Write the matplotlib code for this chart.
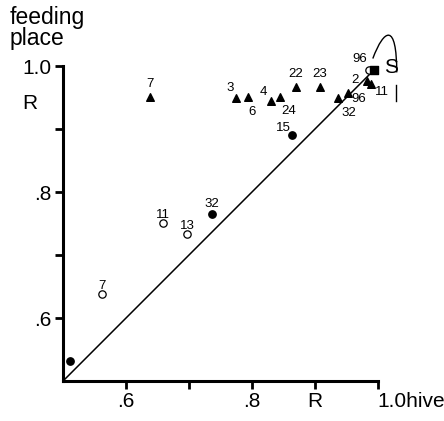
import matplotlib
matplotlib.use("Agg")
import matplotlib.pyplot as plt
from matplotlib.path import Path
from matplotlib.patches import PathPatch

plt.rcParams['font.family'] = ['Liberation Sans', 'DejaVu Sans']

# filled triangles
tri_x = [0.638, 0.775, 0.794, 0.830, 0.845, 0.870, 0.908, 0.937, 0.952, 0.982, 0.989]
tri_y = [0.951, 0.949, 0.951, 0.944, 0.951, 0.967, 0.967, 0.949, 0.957, 0.976, 0.972]
tri_lab = ['7', '3', '6', '4', '24', '22', '23', '32', '96', '2', '11']

# filled circles
dot_x = [0.863, 0.737, 0.511]
dot_y = [0.890, 0.765, 0.532]
dot_lab = ['15', '32', '']

# open circles
ring_x = [0.659, 0.697, 0.562, 0.986]
ring_y = [0.751, 0.733, 0.638, 0.994]
ring_lab = ['11', '13', '7', '96']

# filled square (S)
sq_x = [0.994]
sq_y = [0.994]

# label offsets (points)
tri_off = [(0, 9), (-4, 7), (3, -11), (-5, 7), (6, -10), (0, 9), (0, 9), (8, -11), (8, -4), (-8, 1), (8, -6)]
dot_off = [(-6, 5), (0, 7), (0, 0)]
ring_off = [(0, 6), (0, 6), (0, 6), (-7, 8)]

fig = plt.figure(figsize=(4.44, 4.21), dpi=100)
ax = fig.add_axes([0.142, 0.095, 0.709, 0.748])

ax.plot([0.5, 1.0], [0.5, 1.0], color='black', lw=1.1)
ax.scatter(tri_x, tri_y, marker='^', s=30, color='black', zorder=3, clip_on=False)
ax.scatter(dot_x, dot_y, marker='o', s=28, color='black', zorder=3, clip_on=False)
ax.scatter(ring_x, ring_y, marker='o', s=28, facecolor='white', edgecolor='black', lw=0.9, zorder=3, clip_on=False)
ax.scatter(sq_x, sq_y, marker='s', s=30, color='black', zorder=3, clip_on=False)

for x, y, t, o in zip(tri_x, tri_y, tri_lab, tri_off):
    ax.annotate(t, (x, y), xytext=o, textcoords='offset points', ha='center', va='center', fontsize=9.5, annotation_clip=False)
for x, y, t, o in zip(dot_x, dot_y, dot_lab, dot_off):
    ax.annotate(t, (x, y), xytext=o, textcoords='offset points', ha='center', va='center', fontsize=9.5, annotation_clip=False)
for x, y, t, o in zip(ring_x, ring_y, ring_lab, ring_off):
    ax.annotate(t, (x, y), xytext=o, textcoords='offset points', ha='center', va='center', fontsize=9.5, annotation_clip=False)
ax.annotate('S', (sq_x[0], sq_y[0]), xytext=(12, 2), textcoords='offset points', ha='center', va='center', fontsize=15, annotation_clip=False)

# hand drawn loop near S
loop = Path([(0.992, 1.012), (1.01, 1.06), (1.03, 1.07), (1.03, 0.99)],
            [Path.MOVETO, Path.CURVE4, Path.CURVE4, Path.CURVE4])
ax.add_patch(PathPatch(loop, fill=False, lw=1.0, color='black', clip_on=False))
ax.plot([1.029, 1.029], [0.97, 0.945], color='black', lw=1.0, clip_on=False)

ax.set_xlim(0.5, 1.0)
ax.set_ylim(0.5, 1.0)
ax.spines['top'].set_visible(False)
ax.spines['right'].set_visible(False)
ax.spines['left'].set_linewidth(2.2)
ax.spines['bottom'].set_linewidth(2.2)

ax.set_xticks([0.6, 0.7, 0.8, 0.9, 1.0])
ax.set_xticklabels(['.6', '', '.8', 'R', '1.0hive'])
ax.set_yticks([0.6, 0.7, 0.8, 0.9, 1.0])
ax.set_yticklabels(['.6', '', '.8', '', '1.0'])
ax.tick_params(width=2, length=6, labelsize=15, pad=2)
for lab in ax.get_xticklabels():
    if lab.get_text() == '1.0hive':
        lab.set_horizontalalignment('left')
        lab.set_x(0.99)

fig.text(0.068, 0.755, 'R', fontsize=15, ha='center', va='center')
fig.text(0.022, 0.985, 'feeding\nplace', fontsize=16.5, ha='left', va='top', linespacing=0.85)

fig.savefig('out.png', dpi=100)
